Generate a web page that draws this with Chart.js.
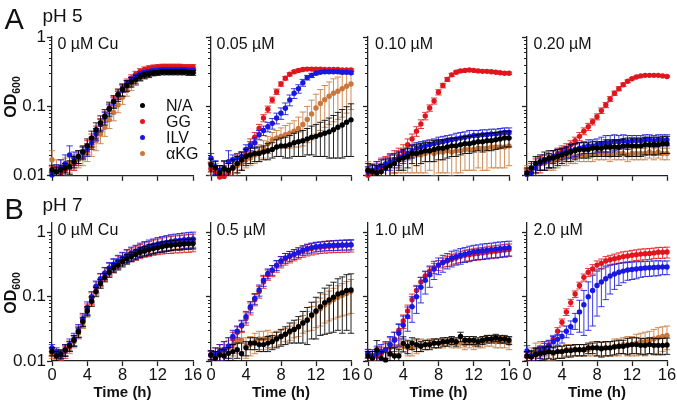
<!DOCTYPE html>
<html><head><meta charset="utf-8">
<script src="https://cdn.jsdelivr.net/npm/chart.js@4.4.1/dist/chart.umd.min.js"></script>
<style>
html,body{margin:0;padding:0;background:#fff;}
body{width:677px;height:405px;position:relative;overflow:hidden;font-family:'Liberation Sans',Arial,sans-serif;color:#111;}
canvas{position:absolute;}
.t{position:absolute;white-space:nowrap;line-height:1;}
</style></head><body>
<script>
// ---------- categories / labels ----------
const timeH = [0,0.5,1,1.5,2,2.5,3,3.5,4,4.5,5,5.5,6,6.5,7,7.5,8,8.5,9,9.5,10,10.5,11,11.5,12,12.5,13,13.5,14,14.5,15,15.5,16];
const seriesNames = ['N/A','GG','ILV','\u03B1KG'];
const yDecades = [0.01,0.1,1];
const yDecadeLabels = ['0.01','0.1','1'];
const xTickStep = 4;
const rowLetters = ['A','B'];
const rowTitles = ['pH 5','pH 7'];
const panelTitles = ['0 \u00B5M Cu','0.05 \u00B5M','0.10 \u00B5M','0.20 \u00B5M','0 \u00B5M Cu','0.5 \u00B5M','1.0 \u00B5M','2.0 \u00B5M'];
const xTitle = 'Time (h)';

// ---------- pH 5, 0 uM Cu ----------
const a1_na  = [0.0122,0.0113,0.0122,0.013,0.0135,0.016,0.019,0.022,0.027,0.035,0.046,0.058,0.072,0.093,0.118,0.148,0.175,0.2,0.225,0.245,0.265,0.28,0.29,0.30,0.305,0.31,0.31,0.31,0.31,0.31,0.31,0.305,0.305];
const a1_na_sd = [0.002,0.002,0.002,0.002,0.003,0.003,0.004,0.005,0.007,0.009,0.012,0.015,0.018,0.022,0.025,0.03,0.035,0.035,0.035,0.035,0.03,0.03,0.03,0.025,0.025,0.025,0.025,0.025,0.025,0.025,0.025,0.025,0.025];
const a1_gg  = [0.0115,0.0118,0.011,0.012,0.013,0.015,0.018,0.022,0.027,0.034,0.044,0.057,0.073,0.094,0.12,0.15,0.185,0.22,0.255,0.29,0.32,0.34,0.355,0.365,0.37,0.375,0.375,0.375,0.375,0.375,0.37,0.37,0.37];
const a1_gg_sd = [0.002,0.002,0.002,0.002,0.003,0.003,0.004,0.004,0.005,0.006,0.008,0.01,0.012,0.015,0.018,0.022,0.025,0.028,0.03,0.03,0.03,0.03,0.03,0.03,0.03,0.03,0.03,0.03,0.03,0.03,0.03,0.03,0.03];
const a1_ilv = [0.0103,0.0115,0.013,0.015,0.02,0.018,0.019,0.022,0.024,0.03,0.04,0.055,0.07,0.09,0.115,0.145,0.18,0.21,0.24,0.265,0.29,0.305,0.315,0.325,0.33,0.335,0.335,0.335,0.335,0.335,0.335,0.33,0.33];
const a1_ilv_sd = [0.001,0.003,0.004,0.005,0.007,0.004,0.004,0.004,0.005,0.006,0.008,0.01,0.012,0.015,0.018,0.02,0.022,0.025,0.025,0.025,0.025,0.025,0.025,0.025,0.025,0.025,0.025,0.025,0.025,0.025,0.025,0.025,0.025];
const a1_akg = [0.017,0.013,0.013,0.014,0.015,0.016,0.017,0.019,0.022,0.026,0.032,0.04,0.05,0.064,0.082,0.105,0.135,0.17,0.2,0.23,0.26,0.28,0.3,0.31,0.32,0.325,0.33,0.33,0.33,0.33,0.33,0.325,0.325];
const a1_akg_sd = [0.006,0.004,0.004,0.004,0.004,0.004,0.004,0.005,0.006,0.007,0.009,0.011,0.013,0.016,0.02,0.024,0.028,0.03,0.03,0.03,0.03,0.03,0.03,0.025,0.025,0.025,0.025,0.025,0.025,0.025,0.025,0.025,0.025];

// ---------- pH 5, 0.05 uM ----------
const a2_na  = [0.0144,0.013,0.011,0.0125,0.012,0.013,0.015,0.017,0.019,0.02,0.021,0.021,0.022,0.023,0.024,0.026,0.027,0.027,0.028,0.03,0.031,0.032,0.034,0.036,0.037,0.039,0.041,0.043,0.046,0.05,0.054,0.059,0.064];
const a2_na_sd = [0.003,0.003,0.003,0.004,0.003,0.004,0.004,0.005,0.005,0.005,0.005,0.005,0.005,0.006,0.006,0.007,0.008,0.009,0.01,0.011,0.012,0.013,0.014,0.016,0.018,0.02,0.022,0.025,0.028,0.032,0.036,0.04,0.045];
const a2_gg  = [0.0125,0.011,0.0095,0.0098,0.011,0.013,0.015,0.017,0.02,0.028,0.036,0.048,0.068,0.091,0.124,0.163,0.21,0.255,0.29,0.315,0.33,0.34,0.345,0.345,0.345,0.345,0.34,0.34,0.34,0.34,0.335,0.335,0.335];
const a2_gg_sd = [0.003,0.003,0.003,0.004,0.004,0.005,0.005,0.005,0.005,0.006,0.006,0.007,0.008,0.01,0.012,0.015,0.015,0.015,0.015,0.015,0.015,0.015,0.015,0.015,0.012,0.012,0.012,0.012,0.012,0.012,0.012,0.012,0.012];
const a2_ilv = [0.018,0.0135,0.012,0.013,0.016,0.017,0.018,0.019,0.024,0.027,0.03,0.039,0.045,0.051,0.057,0.068,0.08,0.094,0.124,0.155,0.18,0.22,0.26,0.28,0.3,0.31,0.315,0.315,0.315,0.315,0.31,0.31,0.305];
const a2_ilv_sd = [0.003,0.003,0.002,0.003,0.007,0.003,0.003,0.003,0.004,0.004,0.005,0.006,0.007,0.008,0.01,0.012,0.015,0.018,0.022,0.025,0.025,0.025,0.02,0.02,0.015,0.012,0.012,0.012,0.012,0.012,0.012,0.012,0.012];
const a2_akg = [0.013,0.012,0.011,0.011,0.012,0.013,0.014,0.015,0.017,0.018,0.02,0.022,0.025,0.029,0.033,0.035,0.037,0.039,0.041,0.044,0.048,0.055,0.065,0.078,0.095,0.11,0.125,0.14,0.155,0.165,0.18,0.195,0.21];
const a2_akg_sd = [0.003,0.003,0.003,0.003,0.003,0.003,0.003,0.003,0.004,0.004,0.005,0.006,0.007,0.008,0.009,0.01,0.012,0.014,0.016,0.018,0.022,0.028,0.035,0.045,0.055,0.065,0.075,0.085,0.095,0.1,0.11,0.115,0.12];

// ---------- pH 5, 0.10 uM ----------
const a3_na  = [0.012,0.0115,0.011,0.0115,0.013,0.014,0.015,0.017,0.018,0.019,0.021,0.021,0.022,0.023,0.023,0.024,0.025,0.025,0.026,0.027,0.027,0.028,0.029,0.029,0.03,0.031,0.031,0.032,0.032,0.033,0.034,0.035,0.035];
const a3_na_sd = [0.003,0.003,0.003,0.003,0.004,0.004,0.005,0.005,0.006,0.006,0.006,0.007,0.007,0.007,0.007,0.008,0.008,0.008,0.008,0.008,0.008,0.008,0.008,0.008,0.008,0.008,0.009,0.009,0.009,0.009,0.009,0.009,0.009];
const a3_gg  = [0.0102,0.011,0.012,0.013,0.014,0.015,0.017,0.019,0.022,0.028,0.034,0.044,0.056,0.073,0.095,0.12,0.16,0.2,0.245,0.285,0.31,0.325,0.33,0.335,0.33,0.325,0.32,0.32,0.315,0.31,0.305,0.3,0.3];
const a3_gg_sd = [0.002,0.003,0.004,0.005,0.005,0.006,0.006,0.006,0.006,0.006,0.006,0.007,0.008,0.009,0.01,0.012,0.014,0.015,0.015,0.015,0.015,0.015,0.012,0.012,0.012,0.012,0.012,0.012,0.012,0.012,0.012,0.012,0.012];
const a3_ilv = [0.0115,0.012,0.013,0.014,0.015,0.016,0.017,0.018,0.019,0.021,0.023,0.025,0.026,0.027,0.028,0.029,0.03,0.031,0.032,0.033,0.034,0.035,0.036,0.037,0.038,0.038,0.039,0.039,0.04,0.04,0.041,0.042,0.042];
const a3_ilv_sd = [0.002,0.002,0.003,0.003,0.003,0.004,0.004,0.004,0.004,0.004,0.005,0.005,0.005,0.005,0.005,0.005,0.006,0.006,0.006,0.006,0.007,0.007,0.007,0.008,0.007,0.007,0.007,0.007,0.007,0.007,0.007,0.007,0.007];
const a3_akg = [0.013,0.012,0.012,0.013,0.014,0.015,0.016,0.017,0.018,0.019,0.019,0.02,0.02,0.021,0.022,0.021,0.022,0.022,0.023,0.022,0.023,0.023,0.024,0.024,0.024,0.025,0.025,0.025,0.026,0.026,0.026,0.026,0.027];
const a3_akg_sd = [0.003,0.003,0.003,0.004,0.004,0.005,0.005,0.006,0.007,0.008,0.008,0.009,0.009,0.01,0.01,0.011,0.011,0.011,0.012,0.012,0.012,0.012,0.012,0.012,0.012,0.012,0.013,0.013,0.013,0.013,0.013,0.013,0.013];

// ---------- pH 5, 0.20 uM ----------
const a4_na  = [0.011,0.013,0.015,0.016,0.017,0.018,0.018,0.019,0.02,0.021,0.022,0.023,0.024,0.024,0.024,0.025,0.025,0.025,0.026,0.026,0.026,0.026,0.027,0.027,0.027,0.027,0.027,0.028,0.028,0.028,0.028,0.029,0.029];
const a4_na_sd = [0.002,0.003,0.004,0.004,0.005,0.005,0.005,0.005,0.005,0.005,0.006,0.006,0.006,0.006,0.006,0.006,0.006,0.006,0.007,0.007,0.007,0.007,0.007,0.008,0.008,0.008,0.008,0.008,0.008,0.008,0.008,0.008,0.008];
const a4_gg  = [0.0105,0.012,0.014,0.015,0.016,0.017,0.019,0.021,0.023,0.025,0.028,0.032,0.037,0.044,0.051,0.06,0.071,0.087,0.105,0.128,0.155,0.18,0.205,0.23,0.25,0.265,0.275,0.28,0.28,0.28,0.28,0.275,0.27];
const a4_gg_sd = [0.002,0.003,0.004,0.004,0.004,0.004,0.004,0.004,0.004,0.004,0.004,0.004,0.005,0.005,0.006,0.006,0.007,0.008,0.009,0.01,0.011,0.012,0.012,0.01,0.008,0.007,0.007,0.006,0.006,0.006,0.006,0.006,0.006];
const a4_ilv = [0.0105,0.011,0.013,0.015,0.016,0.017,0.019,0.02,0.021,0.022,0.023,0.024,0.025,0.026,0.027,0.027,0.028,0.029,0.03,0.03,0.031,0.031,0.032,0.031,0.032,0.032,0.032,0.033,0.033,0.032,0.033,0.033,0.033];
const a4_ilv_sd = [0.001,0.002,0.003,0.003,0.004,0.004,0.004,0.004,0.004,0.004,0.005,0.005,0.005,0.005,0.006,0.006,0.006,0.007,0.008,0.008,0.008,0.007,0.007,0.007,0.006,0.006,0.006,0.006,0.006,0.006,0.006,0.006,0.006];
const a4_akg = [0.012,0.013,0.014,0.015,0.015,0.016,0.016,0.017,0.018,0.018,0.019,0.019,0.02,0.02,0.02,0.02,0.021,0.021,0.021,0.02,0.021,0.021,0.021,0.02,0.021,0.021,0.021,0.021,0.022,0.021,0.022,0.021,0.021];
const a4_akg_sd = [0.002,0.003,0.003,0.003,0.003,0.004,0.004,0.004,0.004,0.004,0.004,0.004,0.004,0.004,0.004,0.004,0.004,0.004,0.004,0.004,0.004,0.004,0.004,0.004,0.004,0.004,0.004,0.004,0.004,0.004,0.004,0.004,0.004];

// ---------- pH 7, 0 uM Cu ----------
const b1_na  = [0.014,0.012,0.0127,0.0148,0.0173,0.021,0.0285,0.041,0.06,0.085,0.12,0.16,0.2,0.24,0.28,0.31,0.35,0.385,0.42,0.455,0.49,0.515,0.54,0.56,0.58,0.6,0.62,0.63,0.64,0.65,0.66,0.665,0.67];
const b1_na_sd = [0.002,0.002,0.002,0.003,0.003,0.004,0.005,0.007,0.01,0.014,0.02,0.025,0.03,0.04,0.045,0.05,0.06,0.065,0.07,0.08,0.085,0.09,0.1,0.1,0.1,0.11,0.11,0.11,0.11,0.12,0.12,0.12,0.12];
const b1_gg  = [0.014,0.013,0.012,0.014,0.017,0.021,0.029,0.043,0.064,0.095,0.14,0.185,0.23,0.27,0.31,0.35,0.39,0.43,0.46,0.49,0.52,0.55,0.57,0.6,0.62,0.64,0.66,0.67,0.68,0.69,0.7,0.71,0.72];
const b1_gg_sd = [0.002,0.002,0.002,0.003,0.003,0.004,0.006,0.009,0.013,0.02,0.03,0.04,0.05,0.06,0.07,0.08,0.09,0.1,0.11,0.12,0.13,0.14,0.15,0.16,0.17,0.18,0.19,0.2,0.2,0.21,0.21,0.22,0.22];
const b1_ilv = [0.016,0.014,0.013,0.015,0.018,0.022,0.03,0.045,0.068,0.1,0.145,0.19,0.235,0.28,0.32,0.36,0.4,0.44,0.48,0.51,0.55,0.58,0.61,0.63,0.66,0.68,0.7,0.72,0.74,0.75,0.77,0.78,0.79];
const b1_ilv_sd = [0.002,0.002,0.002,0.003,0.004,0.005,0.007,0.01,0.015,0.02,0.03,0.04,0.05,0.06,0.07,0.08,0.09,0.1,0.11,0.12,0.13,0.14,0.15,0.16,0.17,0.18,0.19,0.2,0.2,0.21,0.21,0.22,0.22];
const b1_akg = [0.013,0.0125,0.012,0.014,0.016,0.02,0.027,0.039,0.058,0.085,0.125,0.165,0.205,0.245,0.285,0.32,0.36,0.39,0.42,0.45,0.48,0.51,0.53,0.56,0.58,0.6,0.62,0.63,0.65,0.66,0.67,0.68,0.69];
const b1_akg_sd = [0.002,0.002,0.002,0.002,0.003,0.004,0.005,0.007,0.01,0.014,0.02,0.025,0.03,0.035,0.04,0.045,0.05,0.055,0.06,0.065,0.07,0.075,0.08,0.085,0.09,0.09,0.095,0.1,0.1,0.1,0.1,0.1,0.1];

// ---------- pH 7, 0.5 uM ----------
const b2_na  = [0.0124,0.011,0.0124,0.012,0.0132,0.014,0.015,0.013,0.016,0.019,0.019,0.018,0.018,0.019,0.02,0.022,0.024,0.026,0.029,0.031,0.034,0.039,0.043,0.052,0.06,0.07,0.081,0.089,0.098,0.11,0.115,0.125,0.127];
const b2_na_sd = [0.002,0.003,0.003,0.003,0.003,0.004,0.004,0.006,0.004,0.004,0.004,0.004,0.004,0.005,0.005,0.006,0.007,0.008,0.01,0.012,0.015,0.02,0.025,0.03,0.038,0.045,0.055,0.062,0.07,0.08,0.088,0.095,0.1];
const b2_gg  = [0.0125,0.013,0.014,0.015,0.017,0.022,0.028,0.035,0.046,0.066,0.09,0.12,0.17,0.22,0.255,0.3,0.35,0.39,0.42,0.45,0.48,0.51,0.54,0.56,0.58,0.59,0.6,0.61,0.615,0.62,0.625,0.63,0.635];
const b2_gg_sd = [0.002,0.003,0.004,0.005,0.006,0.006,0.006,0.007,0.01,0.014,0.018,0.025,0.035,0.04,0.05,0.06,0.07,0.08,0.085,0.09,0.095,0.1,0.11,0.115,0.12,0.12,0.125,0.13,0.13,0.135,0.135,0.14,0.14];
const b2_ilv = [0.0124,0.013,0.014,0.015,0.017,0.024,0.029,0.036,0.049,0.07,0.094,0.127,0.18,0.23,0.26,0.31,0.36,0.4,0.43,0.46,0.49,0.53,0.56,0.58,0.6,0.61,0.62,0.625,0.63,0.635,0.64,0.64,0.645];
const b2_ilv_sd = [0.002,0.003,0.004,0.005,0.006,0.006,0.006,0.007,0.01,0.014,0.018,0.025,0.035,0.04,0.045,0.055,0.06,0.07,0.075,0.08,0.085,0.09,0.095,0.1,0.1,0.1,0.105,0.105,0.11,0.11,0.11,0.11,0.11];
const b2_akg = [0.012,0.012,0.013,0.014,0.016,0.018,0.02,0.021,0.017,0.018,0.02,0.022,0.022,0.023,0.022,0.023,0.024,0.026,0.028,0.031,0.034,0.039,0.044,0.05,0.058,0.065,0.074,0.082,0.09,0.098,0.105,0.112,0.12];
const b2_akg_sd = [0.002,0.002,0.003,0.004,0.005,0.006,0.007,0.007,0.006,0.006,0.007,0.007,0.007,0.007,0.006,0.006,0.006,0.006,0.007,0.008,0.01,0.012,0.015,0.02,0.025,0.03,0.035,0.04,0.045,0.05,0.055,0.06,0.065];

// ---------- pH 7, 1.0 uM ----------
const b3_na  = [0.012,0.011,0.0148,0.011,0.0104,0.013,0.012,0.012,0.0188,0.017,0.019,0.018,0.017,0.018,0.018,0.019,0.019,0.02,0.02,0.021,0.02,0.024,0.021,0.021,0.021,0.02,0.021,0.022,0.022,0.023,0.022,0.022,0.021];
const b3_na_sd = [0.002,0.003,0.006,0.003,0.003,0.003,0.004,0.003,0.005,0.004,0.004,0.004,0.003,0.003,0.003,0.003,0.003,0.003,0.003,0.003,0.003,0.004,0.003,0.003,0.003,0.003,0.003,0.003,0.003,0.003,0.003,0.003,0.003];
const b3_gg  = [0.013,0.012,0.012,0.013,0.015,0.018,0.022,0.03,0.042,0.06,0.09,0.125,0.17,0.21,0.25,0.28,0.31,0.34,0.36,0.38,0.4,0.42,0.44,0.45,0.46,0.47,0.48,0.49,0.5,0.51,0.52,0.53,0.54];
const b3_gg_sd = [0.002,0.002,0.003,0.003,0.004,0.005,0.006,0.008,0.01,0.014,0.02,0.025,0.03,0.035,0.04,0.05,0.055,0.06,0.065,0.07,0.075,0.08,0.085,0.09,0.095,0.1,0.1,0.105,0.11,0.11,0.115,0.12,0.12];
const b3_ilv = [0.0132,0.012,0.013,0.014,0.015,0.018,0.021,0.027,0.036,0.049,0.07,0.1,0.14,0.18,0.22,0.27,0.31,0.34,0.37,0.4,0.42,0.44,0.46,0.48,0.5,0.51,0.52,0.53,0.54,0.55,0.56,0.57,0.58];
const b3_ilv_sd = [0.002,0.003,0.004,0.004,0.005,0.006,0.007,0.01,0.014,0.02,0.03,0.045,0.06,0.07,0.08,0.085,0.09,0.1,0.1,0.11,0.11,0.12,0.12,0.13,0.13,0.13,0.14,0.14,0.14,0.15,0.15,0.15,0.15];
const b3_akg = [0.012,0.012,0.013,0.014,0.015,0.016,0.017,0.017,0.017,0.016,0.016,0.017,0.018,0.018,0.019,0.019,0.019,0.019,0.02,0.019,0.019,0.019,0.018,0.019,0.018,0.019,0.02,0.021,0.021,0.02,0.02,0.02,0.019];
const b3_akg_sd = [0.002,0.002,0.003,0.003,0.004,0.004,0.004,0.004,0.003,0.004,0.004,0.004,0.004,0.003,0.003,0.003,0.003,0.003,0.003,0.003,0.003,0.003,0.003,0.003,0.003,0.003,0.004,0.004,0.004,0.004,0.004,0.004,0.004];

// ---------- pH 7, 2.0 uM ----------
const b4_na  = [0.012,0.0115,0.0125,0.013,0.0135,0.014,0.0135,0.014,0.014,0.0145,0.0145,0.015,0.015,0.015,0.016,0.016,0.016,0.0155,0.016,0.016,0.0165,0.017,0.017,0.0175,0.018,0.018,0.0175,0.0175,0.018,0.0175,0.0175,0.0175,0.0177];
const b4_na_sd = [0.002,0.003,0.003,0.003,0.003,0.003,0.003,0.003,0.003,0.003,0.003,0.003,0.003,0.003,0.003,0.003,0.004,0.004,0.004,0.004,0.004,0.004,0.004,0.005,0.005,0.005,0.005,0.005,0.005,0.005,0.005,0.005,0.005];
const b4_gg  = [0.0117,0.012,0.013,0.014,0.0157,0.0177,0.022,0.029,0.04,0.058,0.081,0.11,0.15,0.2,0.24,0.27,0.31,0.33,0.36,0.375,0.39,0.405,0.42,0.43,0.44,0.45,0.46,0.465,0.47,0.48,0.49,0.49,0.495];
const b4_gg_sd = [0.002,0.002,0.003,0.003,0.003,0.003,0.003,0.004,0.005,0.007,0.01,0.013,0.018,0.025,0.035,0.045,0.05,0.055,0.06,0.065,0.07,0.075,0.08,0.08,0.085,0.085,0.09,0.09,0.09,0.09,0.095,0.095,0.095];
const b4_ilv = [0.0143,0.012,0.013,0.014,0.016,0.017,0.02,0.0217,0.024,0.029,0.034,0.043,0.058,0.075,0.1,0.125,0.15,0.17,0.19,0.21,0.225,0.24,0.25,0.26,0.265,0.27,0.275,0.28,0.282,0.285,0.287,0.29,0.29];
const b4_ilv_sd = [0.003,0.002,0.003,0.003,0.004,0.004,0.004,0.004,0.005,0.006,0.008,0.012,0.03,0.05,0.07,0.09,0.1,0.1,0.1,0.1,0.095,0.09,0.085,0.08,0.08,0.08,0.075,0.075,0.075,0.075,0.075,0.07,0.07];
const b4_akg = [0.012,0.013,0.015,0.016,0.015,0.014,0.013,0.014,0.014,0.015,0.015,0.015,0.015,0.015,0.015,0.016,0.016,0.016,0.016,0.016,0.017,0.017,0.018,0.018,0.018,0.019,0.02,0.02,0.021,0.022,0.023,0.024,0.025];
const b4_akg_sd = [0.002,0.003,0.004,0.004,0.004,0.004,0.003,0.003,0.003,0.003,0.003,0.003,0.003,0.003,0.003,0.004,0.004,0.004,0.004,0.004,0.005,0.005,0.005,0.006,0.006,0.007,0.007,0.008,0.008,0.009,0.01,0.01,0.01];

// ---------- panel assembly (values only) ----------
const panelSeries = [
  [a1_na,a1_gg,a1_ilv,a1_akg],[a2_na,a2_gg,a2_ilv,a2_akg],[a3_na,a3_gg,a3_ilv,a3_akg],[a4_na,a4_gg,a4_ilv,a4_akg],
  [b1_na,b1_gg,b1_ilv,b1_akg],[b2_na,b2_gg,b2_ilv,b2_akg],[b3_na,b3_gg,b3_ilv,b3_akg],[b4_na,b4_gg,b4_ilv,b4_akg]
];
const panelSD = [
  [a1_na_sd,a1_gg_sd,a1_ilv_sd,a1_akg_sd],[a2_na_sd,a2_gg_sd,a2_ilv_sd,a2_akg_sd],[a3_na_sd,a3_gg_sd,a3_ilv_sd,a3_akg_sd],[a4_na_sd,a4_gg_sd,a4_ilv_sd,a4_akg_sd],
  [b1_na_sd,b1_gg_sd,b1_ilv_sd,b1_akg_sd],[b2_na_sd,b2_gg_sd,b2_ilv_sd,b2_akg_sd],[b3_na_sd,b3_gg_sd,b3_ilv_sd,b3_akg_sd],[b4_na_sd,b4_gg_sd,b4_ilv_sd,b4_akg_sd]
];

// ---------- styles & layout ----------
const seriesColors = ['#000000','#e0161e','#1818e0','#c8783c'];
const seriesOrder = [0,2,1,3];
const axisColor = '#222222';
const FONT = "'Liberation Sans', Arial, Helvetica, sans-serif";
const rowLayout = [{top:37,bottom:176,max:1,xH:8,padB:3},{top:223,bottom:361,max:1.4,xH:44,padB:0}];
const colLayout = [{x0:52,w:141,tx:57.5},{x0:211,w:140,tx:216.5},{x0:368,w:141,tx:375},{x0:527,w:140,tx:533.5}];

Chart.defaults.font.family = FONT;
Chart.defaults.color = '#111';

function isDecade(v){ const l=Math.log10(v); return Math.abs(l-Math.round(l))<1e-6; }
function decadeLabel(v){ for(let i=0;i<yDecades.length;i++){ if(Math.abs(v-yDecades[i])/yDecades[i]<1e-6) return yDecadeLabels[i]; } return ''; }

const errorBars = {
  id:'errorBars',
  beforeDatasetDraw(chart,args){
    const ds = chart.data.datasets[args.index]; if(!ds.sd) return;
    const xs=chart.scales.x, ys=chart.scales.y, a=chart.chartArea, ctx=chart.ctx;
    ctx.save(); ctx.beginPath(); ctx.rect(a.left-4,a.top-1,a.right-a.left+8,a.bottom-a.top+1); ctx.clip();
    ctx.strokeStyle = ds.backgroundColor; ctx.lineWidth = 1; ctx.globalAlpha = 0.85;
    ds.data.forEach((pt,i)=>{
      const e = ds.sd[i]; if(e==null) return;
      const x = xs.getPixelForValue(pt.x);
      const yT = ys.getPixelForValue(pt.y+e);
      const lo = pt.y-e;
      const yB = lo>0 ? ys.getPixelForValue(lo) : a.bottom;
      ctx.beginPath();
      ctx.moveTo(x,yT); ctx.lineTo(x,yB);
      ctx.moveTo(x-3.2,yT); ctx.lineTo(x+3.2,yT);
      if(lo>0){ ctx.moveTo(x-3.2,yB); ctx.lineTo(x+3.2,yB); }
      ctx.stroke();
    });
    ctx.restore();
  }
};
const minorTicks = {
  id:'minorTicks',
  afterDraw(chart){
    const ys=chart.scales.y, ctx=chart.ctx, left=chart.chartArea.left;
    ctx.save(); ctx.strokeStyle=axisColor; ctx.lineWidth=1;
    ys.ticks.forEach(t=>{
      const v=t.value; const e=Math.floor(Math.log10(v)+1e-9); const s=v/Math.pow(10,e); const r=Math.round(s);
      if(Math.abs(s-r)<1e-6 && r>=2 && r<=9){
        const y=Math.round(ys.getPixelForValue(v))+0.5;
        ctx.beginPath(); ctx.moveTo(left-3,y); ctx.lineTo(left,y); ctx.stroke();
      }
    });
    ctx.restore();
  }
};

panelSeries.forEach((series,pi)=>{
  const row = pi<4?0:1, col = pi%4;
  const R=rowLayout[row], C=colLayout[col];
  const yW=50, padT=12, padR=12;
  const cw = yW + C.w + padR, ch = padT + (R.bottom-R.top) + R.xH + R.padB;
  const cv = document.createElement('canvas');
  cv.width=cw; cv.height=ch;
  cv.style.left=(C.x0-yW)+'px'; cv.style.top=(R.top-padT)+'px';
  cv.style.width=cw+'px'; cv.style.height=ch+'px';
  document.body.appendChild(cv);
  const showY = col===0, showX = row===1;
  const datasets = series.map((vals,si)=>({
    label: seriesNames[si],
    data: timeH.map((t,i)=>({x:t,y:vals[i]})),
    sd: panelSD[pi][si],
    backgroundColor: seriesColors[si],
    borderColor: seriesColors[si],
    pointRadius: 2.7, pointBorderWidth: 0, pointHoverRadius: 2.7,
    showLine:false, order: seriesOrder[si], clip: 4
  }));
  new Chart(cv,{
    type:'scatter',
    data:{datasets},
    options:{
      responsive:false, animation:false, devicePixelRatio:1,
      layout:{padding:{top:padT,right:padR,bottom:R.padB,left:0}},
      plugins:{legend:{display:false},tooltip:{enabled:false}},
      scales:{
        x:{type:'linear',min:0,max:16,
          border:{display:true,color:axisColor,width:1.3},
          grid:{display:true,drawOnChartArea:false,drawTicks:true,tickLength:5,tickWidth:1.3,tickColor:axisColor},
          ticks:{display:showX,stepSize:xTickStep,autoSkip:false,maxRotation:0,padding:0,color:'#111',font:{size:16.5}},
          title:{display:showX,text:xTitle,color:'#111',font:{size:15,weight:'bold'},padding:{top:0,bottom:3}},
          afterFit(s){ s.height = R.xH; }
        },
        y:{type:'logarithmic',min:0.01,max:R.max,
          border:{display:true,color:axisColor,width:1.3},
          grid:{display:true,drawOnChartArea:false,drawTicks:true,tickLength:5,tickWidth:1.3,
            tickColor:(ctx)=> (ctx.tick && isDecade(ctx.tick.value)) ? axisColor : 'rgba(0,0,0,0)'},
          ticks:{autoSkip:false,padding:1,color:'#111',font:{size:17},
            callback:(v)=> (showY && isDecade(v)) ? decadeLabel(v) : ''},
          afterFit(s){ s.width = yW; }
        }
      }
    },
    plugins:[errorBars,minorTicks]
  });
  const tt=document.createElement('div'); tt.className='t';
  tt.style.cssText='left:'+C.tx+'px;top:'+(R.top-1.5)+'px;font-size:16px;';
  tt.textContent=panelTitles[pi];
  document.body.appendChild(tt);
});

// row letters, row titles, y-axis titles
rowLetters.forEach((L,r)=>{
  const a=document.createElement('div'); a.className='t';
  a.style.cssText='left:4.5px;top:'+(r===0?4.5:194.5)+'px;font-size:29px;';
  a.textContent=L; document.body.appendChild(a);
  const p=document.createElement('div'); p.className='t';
  p.style.cssText='left:42.5px;top:'+(r===0?5.5:195.2)+'px;font-size:19px;';
  p.textContent=rowTitles[r]; document.body.appendChild(p);
  const o=document.createElement('div'); o.className='t';
  const cy = r===0?96.5:292.5;
  o.style.cssText='left:11.5px;top:'+cy+'px;font-size:16px;font-weight:bold;transform:translate(-50%,-50%) rotate(-90deg);';
  o.innerHTML='OD<span style="font-size:10.5px;vertical-align:-3.5px;">600</span>';
  document.body.appendChild(o);
});

// legend (panel A, 0 uM Cu)
const legendY=[105.5,121.5,137.5,153.5];
seriesNames.forEach((n,i)=>{
  const d=document.createElement('div');
  d.style.cssText='position:absolute;left:140px;top:'+(legendY[i]-2.7)+'px;width:5.4px;height:5.4px;border-radius:50%;background:'+seriesColors[i]+';';
  document.body.appendChild(d);
  const l=document.createElement('div'); l.className='t';
  l.style.cssText='left:166px;top:'+(legendY[i]-7.8)+'px;font-size:16px;';
  l.textContent=n; document.body.appendChild(l);
});
</script>
</body></html>
